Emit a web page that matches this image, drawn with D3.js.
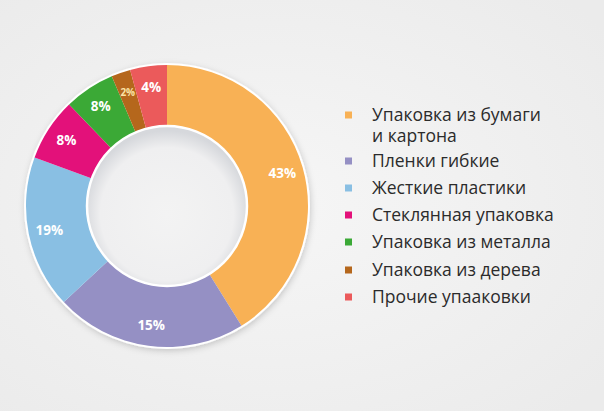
<!DOCTYPE html>
<html>
<head>
<meta charset="utf-8">
<script src="https://cdn.jsdelivr.net/npm/d3@7"></script>
<style>
  html, body { margin: 0; padding: 0; }
  body { width: 604px; height: 411px; overflow: hidden; }
</style>
</head>
<body>
<div id="chart"></div>
<script>
// categories (legend lines), shares measured from the slice angles, printed labels
const categories = [
  ["Упаковка из бумаги", "и картона"],
  ["Пленки гибкие"],
  ["Жесткие пластики"],
  ["Стеклянная упаковка"],
  ["Упаковка из металла"],
  ["Упаковка из дерева"],
  ["Прочие упаaковки"]
];
const shares = [41.1, 21.9, 17.5, 7.2, 5.8, 2.2, 4.2];
const percentLabels = ["43%", "15%", "19%", "8%", "8%", "2%", "4%"];
const colors = ["#f8b155", "#9590c4", "#89bfe3", "#e3117a", "#3ba936", "#b5671c", "#eb5a5b"];

const width = 604, height = 411;
const cx = 167, cy = 206, outerR = 141, innerR = 80;

const svg = d3.select("#chart").append("svg")
  .attr("width", width)
  .attr("height", height);

const defs = svg.append("defs");

// background: light grey, slightly lighter in the middle
const bg = defs.append("radialGradient").attr("id", "bg")
  .attr("cx", "45%").attr("cy", "50%").attr("r", "70%");
bg.append("stop").attr("offset", "0%").attr("stop-color", "#f6f6f6");
bg.append("stop").attr("offset", "100%").attr("stop-color", "#ebebeb");

// inner shadow of the hole
const hole = defs.append("radialGradient").attr("id", "hole")
  .attr("cx", "50%").attr("cy", "55%").attr("r", "52%");
hole.append("stop").attr("offset", "0%").attr("stop-color", "#f3f3f3");
hole.append("stop").attr("offset", "80%").attr("stop-color", "#efeff0");
hole.append("stop").attr("offset", "100%").attr("stop-color", "#d6d8dc");

const shadow = defs.append("filter").attr("id", "shadow")
  .attr("x", "-20%").attr("y", "-20%").attr("width", "140%").attr("height", "140%");
shadow.append("feDropShadow")
  .attr("dx", 1).attr("dy", 2).attr("stdDeviation", 3)
  .attr("flood-color", "#000").attr("flood-opacity", 0.18);

svg.append("rect").attr("width", width).attr("height", height).attr("fill", "url(#bg)");

const g = svg.append("g").attr("transform", `translate(${cx},${cy})`);

// white ring under the slices with a soft shadow
g.append("circle").attr("r", outerR + 2).attr("fill", "#fff").attr("filter", "url(#shadow)");

const pie = d3.pie().sort(null).value(d => d);
const arcs = pie(shares);
const arc = d3.arc().innerRadius(innerR).outerRadius(outerR);
const labelArc = d3.arc().innerRadius(120).outerRadius(120);

g.selectAll("path.slice")
  .data(arcs)
  .enter().append("path")
  .attr("class", "slice")
  .attr("d", arc)
  .attr("fill", (d, i) => colors[i]);

// hole
g.append("circle").attr("r", innerR).attr("fill", "url(#hole)")
  .attr("stroke", "#fff").attr("stroke-width", 2.5);

g.selectAll("text.pct")
  .data(arcs)
  .enter().append("text")
  .attr("class", "pct")
  .attr("transform", d => `translate(${labelArc.centroid(d)})`)
  .attr("text-anchor", "middle")
  .attr("dy", "0.36em")
  .style("font-family", "'Open Sans', sans-serif")
  .style("font-weight", "700")
  .style("font-size", (d, i) => percentLabels[i] === "2%" ? "10px" : "13.5px")
  .style("fill", (d, i) => percentLabels[i] === "2%" ? "#fbe3a6" : "#fff")
  .text((d, i) => percentLabels[i]);

// legend
const legend = svg.append("g").attr("transform", "translate(345,0)");
const rowY = [115, 161, 188, 215, 242, 270, 297];

const items = legend.selectAll("g.item")
  .data(categories)
  .enter().append("g")
  .attr("class", "item")
  .attr("transform", (d, i) => `translate(0,${rowY[i]})`);

items.append("rect")
  .attr("x", 0).attr("y", -3.5)
  .attr("width", 7).attr("height", 7)
  .attr("fill", (d, i) => colors[i]);

items.append("text")
  .style("font-family", "'Open Sans', sans-serif")
  .style("font-size", "17.5px")
  .style("fill", "#2b2b2b")
  .selectAll("tspan")
  .data(d => d)
  .enter().append("tspan")
  .attr("x", 27)
  .attr("y", (d, j) => j * 21)
  .attr("dy", "0.36em")
  .text(d => d);
</script>
</body>
</html>
